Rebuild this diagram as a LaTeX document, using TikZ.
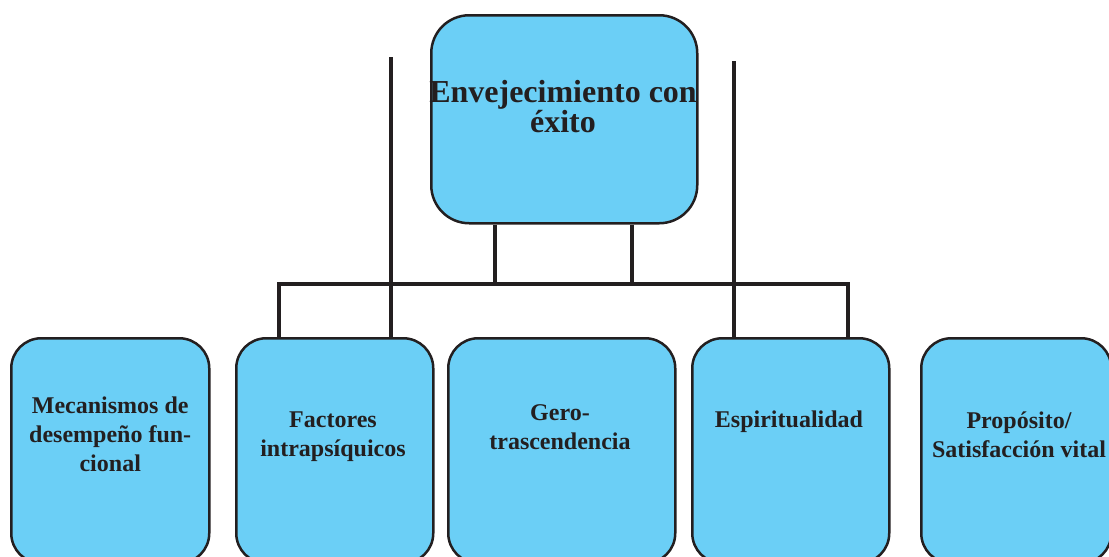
\documentclass[tikz,border=0pt]{standalone}
\usepackage{fontspec}
\setmainfont{Liberation Serif}
\definecolor{boxblue}{RGB}{107,207,246}
\definecolor{inkgray}{RGB}{35,31,32}

\tikzset{every picture/.style={line width=0.75pt}}

\begin{document}
\begin{tikzpicture}[x=1pt,y=1pt,yscale=-1,xscale=1,
  boxshape/.style={draw=inkgray,fill=boxblue,line width=2.5pt,rounded corners=30pt,anchor=north west,inner sep=0pt,minimum height=225pt},
  boxtext/.style={text=inkgray,font=\bfseries\fontsize{24}{29}\selectfont,align=center,inner sep=0pt},
  link/.style={draw=inkgray,line width=4pt,line join=miter}]
\useasboundingbox (0,0) rectangle (1109,557);
\clip (0,0) rectangle (1109,557);

%Shape: Rounded Rectangle [title]
\node [boxshape,rounded corners=38pt,minimum width=266pt,minimum height=208pt] (title) at (430,14) {};
%Shape: Rounded Rectangle [bottom row]
\node [boxshape,minimum width=198pt] (mec) at (10,337) {};
\node [boxshape,minimum width=197pt] (fac) at (235,337) {};
\node [boxshape,minimum width=227pt] (ger) at (447,337) {};
\node [boxshape,minimum width=197pt] (esp) at (691,337) {};
\node [boxshape,minimum width=190pt] (pro) at (920,337) {};

% Text Node
\node [boxtext,font=\bfseries\fontsize{32}{29}\selectfont] (title-txt) at (563,107) {Envejecimiento con\\éxito};
% Text Node
\node [boxtext] (mec-txt) at (mec.north |- 0,434.5) {Mecanismos de\\desempeño fun-\\cional};
% Text Node
\node [boxtext] (fac-txt) at (333,437) {Factores\\intrapsíquicos};
% Text Node
\node [boxtext] (ger-txt) at (560,427.5) {Gero-\\trascendencia};
% Text Node
\node [boxtext] (esp-txt) at (789,422) {Espiritualidad};
% Text Node
\node [boxtext] (pro-txt) at (1019,434.5) {Propósito/\\Satisfacción vital};

%Straight Lines
\coordinate (barL) at (279,284);
\coordinate (barR) at (848,284);
\coordinate (postL) at (391,57);
\coordinate (postR) at (734,61);
\coordinate (dropL) at ([xshift=-69pt]title.south);
\coordinate (dropR) at ([xshift=68pt]title.south);
\draw [link] (barL |- fac.north) -- (barL) -- (barR) -- (barR |- esp.north);
\draw [link] (postL) -- (postL |- fac.north);
\draw [link] (postR) -- (postR |- esp.north);
\draw [link] (dropL) -- (dropL |- barL);
\draw [link] (dropR) -- (dropR |- barL);

\end{tikzpicture}
\end{document}
